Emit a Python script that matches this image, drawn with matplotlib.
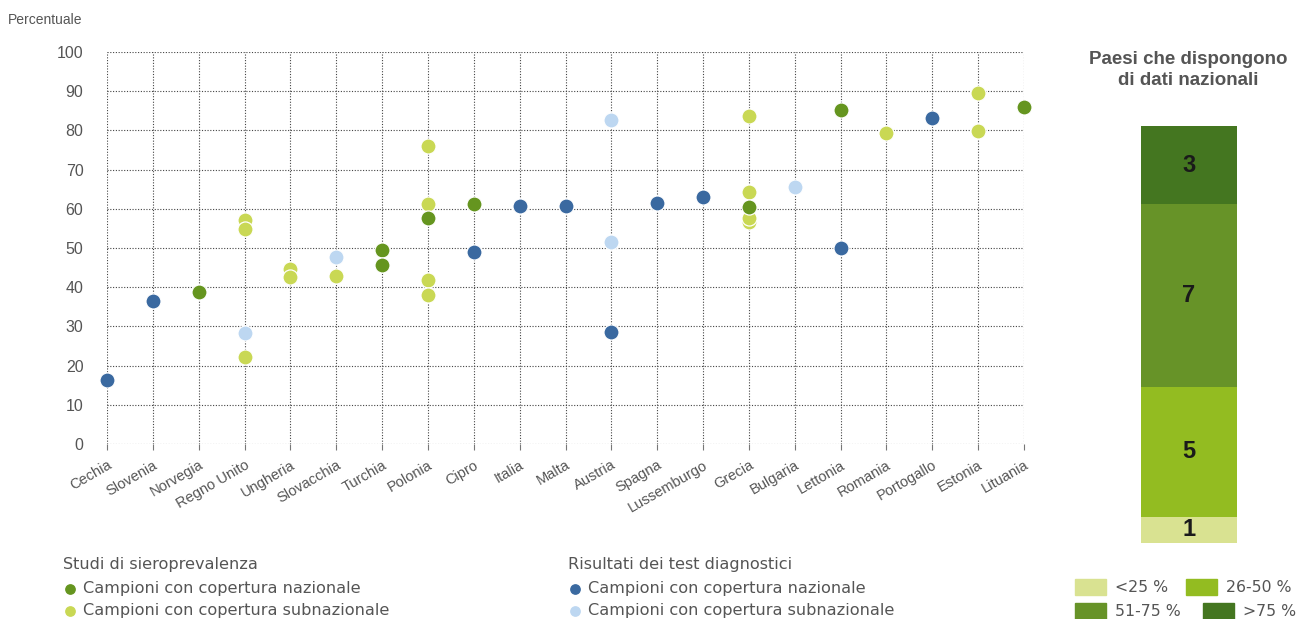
import matplotlib.pyplot as plt
from matplotlib.patches import Rectangle

plt.rcParams['font.family'] = ['Liberation Sans', 'DejaVu Sans']

countries = ['Cechia', 'Slovenia', 'Norvegia', 'Regno Unito', 'Ungheria', 'Slovacchia',
             'Turchia', 'Polonia', 'Cipro', 'Italia', 'Malta', 'Austria', 'Spagna',
             'Lussemburgo', 'Grecia', 'Bulgaria', 'Lettonia', 'Romania', 'Portogallo',
             'Estonia', 'Lituania']

# seroprevalence studies
sero_sub_country = ['Regno Unito', 'Regno Unito', 'Regno Unito', 'Ungheria', 'Ungheria',
                    'Slovacchia', 'Polonia', 'Polonia', 'Polonia', 'Polonia', 'Grecia',
                    'Grecia', 'Grecia', 'Grecia', 'Romania', 'Estonia', 'Estonia']
sero_sub_value = [57.1, 54.9, 22.1, 44.6, 42.7, 42.9, 76.0, 61.2, 41.9, 38.1, 83.7,
                  64.2, 56.6, 57.6, 79.4, 89.6, 79.9]
sero_naz_country = ['Norvegia', 'Turchia', 'Turchia', 'Polonia', 'Cipro', 'Grecia',
                    'Lettonia', 'Lituania']
sero_naz_value = [38.8, 49.4, 45.6, 57.7, 61.3, 60.5, 85.2, 86.0]

# diagnostic test results
test_naz_country = ['Cechia', 'Slovenia', 'Cipro', 'Italia', 'Malta', 'Austria', 'Spagna',
                    'Lussemburgo', 'Lettonia', 'Portogallo']
test_naz_value = [16.4, 36.4, 48.9, 60.7, 60.8, 28.5, 61.5, 63.0, 50.0, 83.2]
test_sub_country = ['Regno Unito', 'Slovacchia', 'Austria', 'Austria', 'Bulgaria']
test_sub_value = [28.3, 47.7, 82.6, 51.6, 65.6]

# countries with national data, by class
class_labels = ['<25 %', '26-50 %', '51-75 %', '>75 %']
class_counts = [1, 5, 7, 3]

c_dark_green = '#65951f'
c_yellow = '#c9d854'
c_blue = '#3a69a0'
c_light_blue = '#bdd7f1'
class_colors = ['#d9e291', '#93bc21', '#679328', '#447620']
grey = '#555555'

fig = plt.figure(figsize=(13.03, 6.19), dpi=100)
ax = fig.add_axes([107 / 1303, 1 - 444 / 619, 917 / 1303, 392 / 619])

def pos(names):
    return [countries.index(n) for n in names]

kw = dict(s=118, edgecolors='white', linewidths=0.9, clip_on=False, zorder=3)
ax.scatter(pos(sero_sub_country), sero_sub_value, color=c_yellow, **kw)
ax.scatter(pos(sero_naz_country), sero_naz_value, color=c_dark_green, **kw)
ax.scatter(pos(test_sub_country), test_sub_value, color=c_light_blue, **kw)
ax.scatter(pos(test_naz_country), test_naz_value, color=c_blue, **kw)

ax.set_xlim(0, len(countries) - 1)
ax.set_ylim(0, 100)
ax.set_yticks(range(0, 101, 10))
ax.set_xticks(range(len(countries)))
ax.set_xticklabels(countries, rotation=30, ha='right', rotation_mode='anchor')
ax.tick_params(axis='x', length=4, color='#777777', labelsize=10.5, labelcolor=grey, pad=6)
ax.tick_params(axis='y', length=0, labelsize=11.5, labelcolor=grey, pad=17)
ax.grid(True, linestyle=(0, (1, 1.5)), color='#444444', linewidth=0.8)
ax.set_axisbelow(True)
for s in ax.spines.values():
    s.set_visible(False)
fig.text(8 / 1303, 1 - 20 / 619, 'Percentuale', fontsize=10, color=grey, va='center')

# stacked bar on the right
axb = fig.add_axes([1141 / 1303, 1 - 543 / 619, 96 / 1303, 417 / 619])
bottom = 0
for n, col in zip(class_counts, class_colors):
    axb.bar(0, n, bottom=bottom, width=1, color=col)
    axb.text(0, bottom + n / 2, str(n), ha='center', va='center', fontsize=17,
             fontweight='bold', color='#1a1a1a')
    bottom += n
axb.set_xlim(-0.5, 0.5)
axb.set_ylim(0, sum(class_counts))
axb.axis('off')
fig.text(1188 / 1303, 1 - 70 / 619, 'Paesi che dispongono\ndi dati nazionali',
         ha='center', va='center', fontsize=13.5, fontweight='bold', color=grey,
         linespacing=1.25)

# legends
leg = fig.add_axes([0, 0, 1, 1])
leg.set_xlim(0, 1303)
leg.set_ylim(619, 0)
leg.axis('off')
txt = dict(fontsize=11.6, color=grey, va='center', family='DejaVu Sans')
for x0, title, cols in [(63, 'Studi di sieroprevalenza', [c_dark_green, c_yellow]),
                        (568, 'Risultati dei test diagnostici', [c_blue, c_light_blue])]:
    leg.text(x0, 565, title, **txt)
    for y, col, lab in zip([589, 611], cols, ['Campioni con copertura nazionale',
                                              'Campioni con copertura subnazionale']):
        leg.scatter(x0 + 7, y, s=45, color=col)
        leg.text(x0 + 20, y, lab, **txt)

box_x = [1075, 1186, 1075, 1203]
box_y = [579, 579, 603, 603]
for lab, col, x0, y0 in zip(class_labels, class_colors, box_x, box_y):
    leg.add_patch(Rectangle((x0, y0), 31, 16, color=col))
    leg.text(x0 + 40, y0 + 8, lab, fontsize=11.3, color=grey, va='center',
             family='DejaVu Sans')

fig.savefig('out.png', dpi=100)
